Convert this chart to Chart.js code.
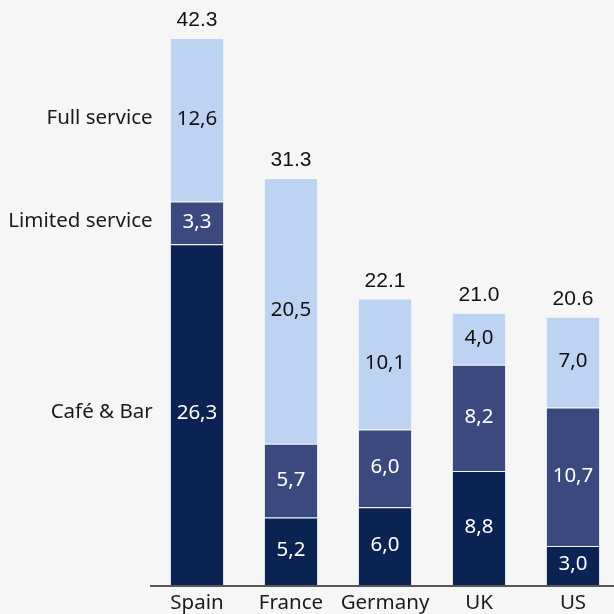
<!DOCTYPE html>
<html>
<head>
<meta charset="utf-8">
<script src="https://cdn.jsdelivr.net/npm/chart.js@4"></script>
<style>
  html, body { margin: 0; padding: 0; background: #f6f6f6; overflow: hidden; }
  #wrap { width: 620px; height: 614px; }
</style>
</head>
<body>
<div id="wrap"><canvas id="bar" width="620" height="614"></canvas></div>
<script>
const countries = ['Spain', 'France', 'Germany', 'UK', 'US'];
const cafeBar = [26.3, 5.2, 6.0, 8.8, 3.0];
const limitedService = [3.3, 5.7, 6.0, 8.2, 10.7];
const fullService = [12.6, 20.5, 10.1, 4.0, 7.0];
const totals = [42.3, 31.3, 22.1, 21.0, 20.6];

const FONT = '"Noto Sans", "Open Sans", sans-serif';

// values inside each segment, totals on top, series names left of the first bar
const labelsPlugin = {
  id: 'labels',
  afterDatasetsDraw(chart) {
    const ctx = chart.ctx;
    ctx.save();
    ctx.font = '20.5px ' + FONT;
    ctx.textAlign = 'center';
    ctx.textBaseline = 'middle';
    chart.data.datasets.forEach((ds, i) => {
      chart.getDatasetMeta(i).data.forEach((bar, j) => {
        ctx.fillStyle = ds.textColor;
        const mid = (bar.y + bar.base) / 2;
        ctx.fillText(ds.data[j].toFixed(1).replace('.', ','), bar.x, mid - 1);
      });
    });

    // totals
    const top = chart.getDatasetMeta(2).data;
    ctx.fillStyle = '#111';
    ctx.font = '21px "Liberation Sans Narrow", "Liberation Sans", Arial, sans-serif';
    ctx.textBaseline = 'alphabetic';
    top.forEach((bar, j) => {
      ctx.fillText(totals[j].toFixed(1), bar.x, bar.y - 12);
    });

    // series names next to Spain
    ctx.font = '20.5px ' + FONT;
    ctx.textAlign = 'right';
    ctx.textBaseline = 'middle';
    ctx.fillStyle = '#1a1a1a';
    chart.data.datasets.forEach((ds, i) => {
      const bar = chart.getDatasetMeta(i).data[0];
      ctx.fillText(ds.label, bar.x - bar.width / 2 - 18, (bar.y + bar.base) / 2 - 2);
    });

    // baseline and category names
    const area = chart.chartArea;
    ctx.strokeStyle = '#222';
    ctx.lineWidth = 1.5;
    ctx.beginPath();
    ctx.moveTo(area.left, area.bottom + 1);
    ctx.lineTo(area.right, area.bottom + 1);
    ctx.stroke();
    ctx.textAlign = 'center';
    ctx.fillStyle = '#1a1a1a';
    countries.forEach((c, j) => {
      ctx.fillText(c, chart.scales.x.getPixelForValue(j), area.bottom + 18);
    });
    ctx.restore();
  }
};

new Chart(bar, {
  type: 'bar',
  data: {
    labels: countries,
    datasets: [
      { label: 'Café & Bar', data: cafeBar, backgroundColor: '#0b2352', textColor: '#fff' },
      { label: 'Limited service', data: limitedService, backgroundColor: '#3a4a7e', textColor: '#fff' },
      { label: 'Full service', data: fullService, backgroundColor: '#bdd3f2', textColor: '#111' }
    ]
  },
  options: {
    responsive: false,
    animation: false,
    layout: { padding: { left: 150, right: 0, top: 0, bottom: 29 } },
    datasets: {
      bar: {
        categoryPercentage: 1,
        barPercentage: 0.56,
        borderWidth: { top: 1 },
        borderColor: 'rgba(255,255,255,0.3)'
      }
    },
    plugins: { legend: { display: false }, tooltip: { enabled: false } },
    scales: {
      x: { stacked: true, display: false },
      y: { stacked: true, display: false, min: 0, max: 45.14 }
    }
  },
  plugins: [labelsPlugin]
});
</script>
</body>
</html>
